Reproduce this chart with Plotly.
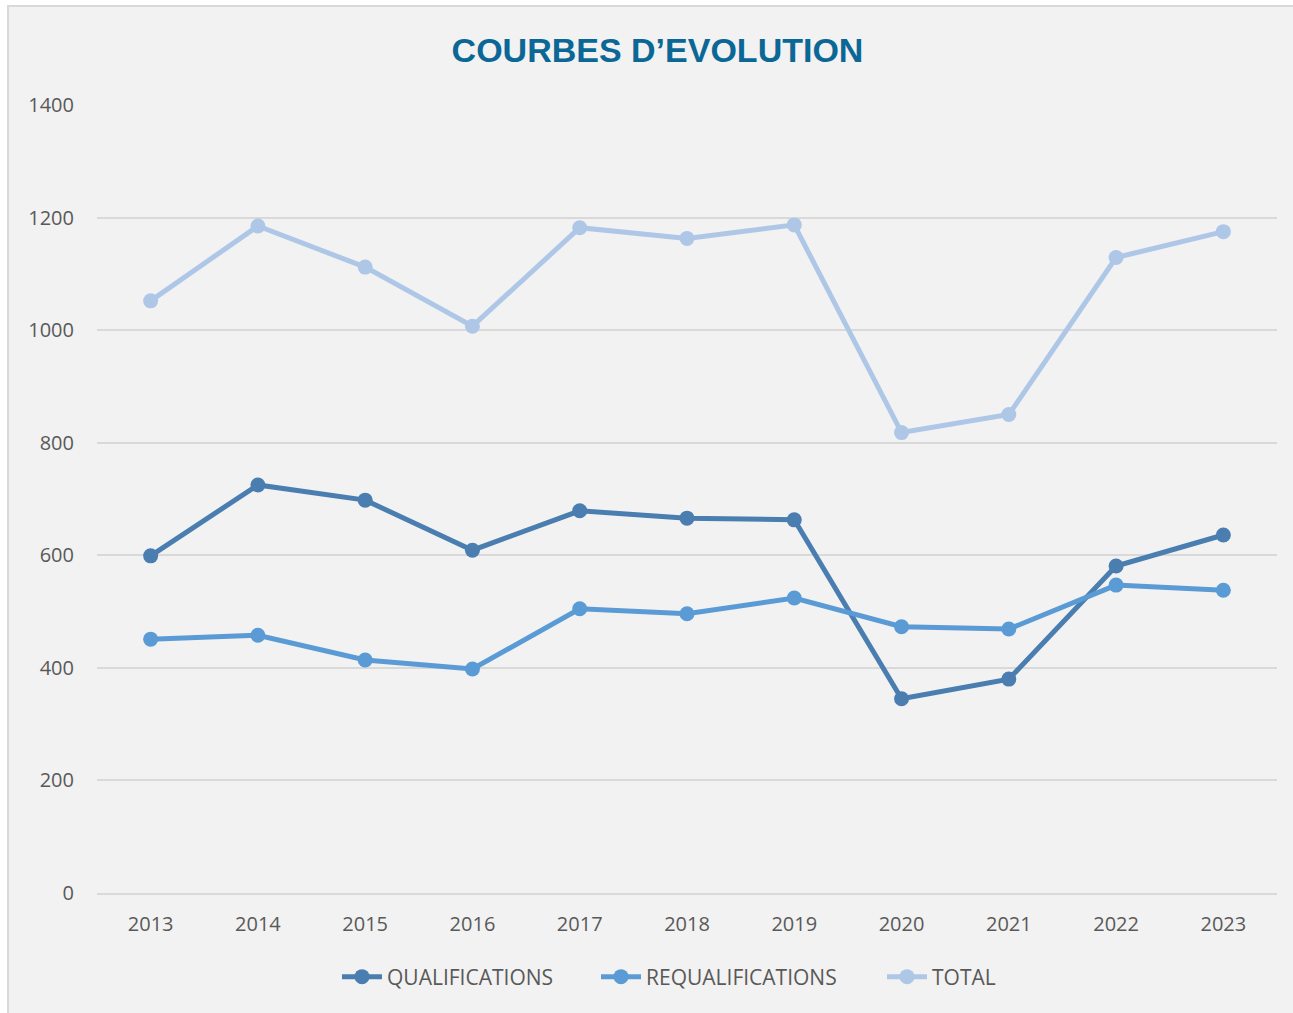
import plotly.graph_objects as go

years = ["2013", "2014", "2015", "2016", "2017", "2018", "2019", "2020", "2021", "2022", "2023"]
qualifications = [599, 725, 698, 609, 679, 666, 663, 345, 380, 581, 636]
requalifications = [451, 458, 414, 398, 505, 496, 524, 473, 469, 547, 538]
total = [1052, 1185, 1112, 1007, 1182, 1163, 1187, 818, 850, 1129, 1175]
y_ticks = [0, 200, 400, 600, 800, 1000, 1200, 1400]

W, H = 1293, 1013
ml, mr, mt, mb = 97, 16, 105, 120
pw, ph = W - ml - mr, H - mt - mb

series = [
    ("QUALIFICATIONS", qualifications, "#4a7db0", "legend", 337),
    ("REQUALIFICATIONS", requalifications, "#5b9bd5", "legend2", 596),
    ("TOTAL", total, "#aec7e7", "legend3", 882),
]

fig = go.Figure()
legends = {}
for name, vals, col, lg, lx in series:
    fig.add_trace(go.Scatter(
        x=years, y=vals, name=name, mode="lines+markers",
        line=dict(color=col, width=5),
        marker=dict(color=col, size=15),
        legend=lg,
    ))
    legends[lg] = dict(
        orientation="h", x=(lx - ml) / pw, xanchor="left",
        y=(H - mb - 977) / ph, yanchor="middle",
        font=dict(family="Open Sans", size=21, color="#595959"),
        bgcolor="rgba(0,0,0,0)",
        itemwidth=40,
    )

fig.add_shape(
    type="rect", xref="paper", yref="paper",
    x0=(8 - ml) / pw, x1=1.2,
    y0=-0.4, y1=(H - mb - 6) / ph,
    fillcolor="#f2f2f2", line=dict(color="#d9d9d9", width=2),
    layer="below",
)

fig.update_layout(
    width=W, height=H,
    margin=dict(l=ml, r=mr, t=mt, b=mb),
    paper_bgcolor="white",
    plot_bgcolor="rgba(0,0,0,0)",
    font=dict(family="Open Sans", size=20, color="#595959"),
    title=dict(
        text="<b>COURBES D’EVOLUTION</b>",
        font=dict(family="Liberation Sans", size=34, color="#0b6795"),
        x=657.5 / W, xanchor="center", xref="container",
        y=1 - 50 / H, yref="container", yanchor="middle",
    ),
    showlegend=True,
    xaxis=dict(
        type="category", range=[-0.5, 10.5],
        showgrid=False, showline=True, linecolor="#d9d9d9", linewidth=1.5,
        ticks="", ticklabelstandoff=12,
        tickfont=dict(family="Open Sans", size=20, color="#595959"),
        fixedrange=True,
    ),
    yaxis=dict(
        range=[0, 1400], tickvals=y_ticks,
        showgrid=True, gridcolor="#d9d9d9", gridwidth=1.5,
        zeroline=False, showline=False,
        ticks="", ticklabelstandoff=22,
        tickfont=dict(family="Open Sans", size=20, color="#595959"),
        fixedrange=True,
    ),
    **legends,
)

fig.write_html(
    "out.html",
    config={"displayModeBar": False},
    post_script="document.body.style.margin='0';document.body.style.overflow='hidden';",
)
